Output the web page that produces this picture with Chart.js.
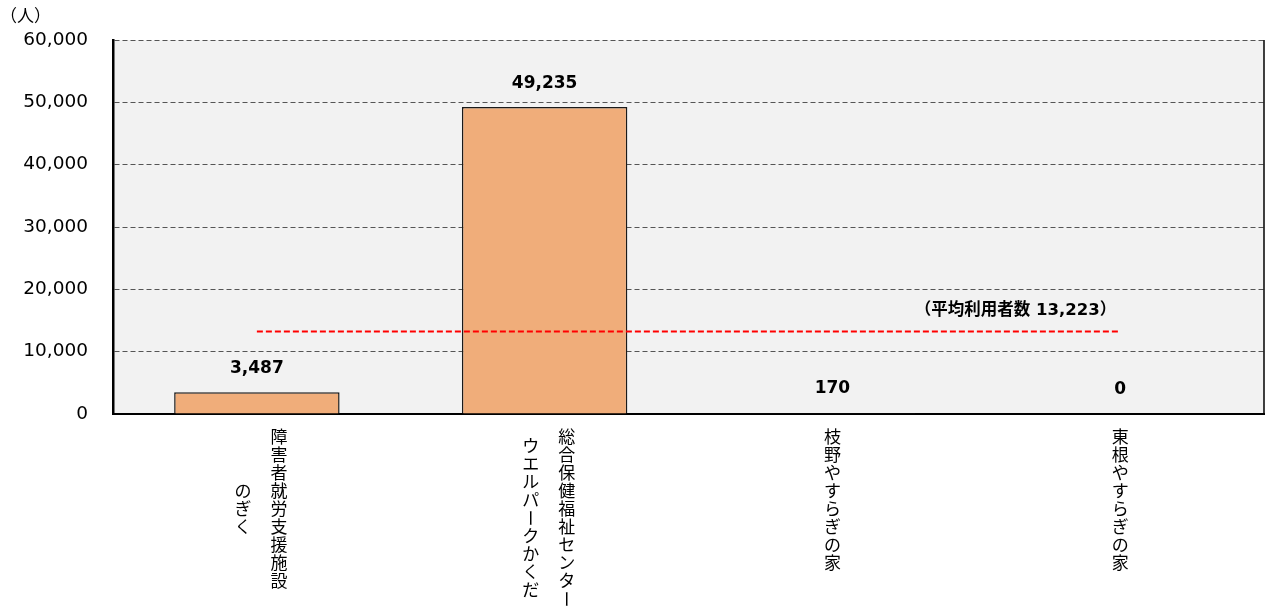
<!DOCTYPE html>
<html>
<head>
<meta charset="utf-8">
<script src="https://cdn.jsdelivr.net/npm/chart.js@4"></script>
<style>
  body { margin: 0; background: #fff; }
</style>
</head>
<body>
<canvas id="myBarChart" width="1269" height="610"></canvas>
<script>
// facility names, each line is one vertical column (first line on the right)
var facilities = [
  ["障害者就労支援施設", "のぎく"],
  ["総合保健福祉センター", "ウエルパークかくだ"],
  ["枝野やすらぎの家"],
  ["東根やすらぎの家"]
];
var users = [3487, 49235, 170, 0];
var average = 13223;
var avgLine = [average, average, average, average];
var yTicks = [0, 10000, 20000, 30000, 40000, 50000, 60000];
var unitLabel = "（人）";
var avgLabel = "（平均利用者数 13,223）";

var numFont = "'DejaVu Sans', Verdana, 'Noto Sans CJK JP', sans-serif";
var jpFont = "'Noto Sans CJK JP', sans-serif";

function fmt(v) {
  return v.toLocaleString('en-US');
}

var drawExtras = {
  id: 'drawExtras',
  beforeDraw: function(chart) {
    var a = chart.chartArea;
    var ctx = chart.ctx;
    ctx.save();
    ctx.fillStyle = '#f2f2f2';
    ctx.fillRect(a.left, a.top, a.right - a.left, a.bottom - a.top);
    ctx.restore();
  },
  afterDraw: function(chart) {
    var a = chart.chartArea;
    var ctx = chart.ctx;
    var x = chart.scales.x;
    var y = chart.scales.y;
    ctx.save();

    // right border of plot area
    ctx.strokeStyle = '#000';
    ctx.lineWidth = 1.5;
    ctx.beginPath();
    ctx.moveTo(a.right, a.top);
    ctx.lineTo(a.right, a.bottom);
    ctx.stroke();

    // unit
    ctx.fillStyle = '#000';
    ctx.font = '17px ' + jpFont;
    ctx.textAlign = 'left';
    ctx.textBaseline = 'middle';
    ctx.fillText(unitLabel, 0, 16);

    // value labels above bars
    var meta = chart.getDatasetMeta(1);
    ctx.font = 'bold 17px ' + numFont;
    ctx.textAlign = 'center';
    meta.data.forEach(function(bar, i) {
      ctx.fillText(fmt(users[i]), bar.x, bar.y - 24);
    });

    // average label
    ctx.textAlign = 'right';
    ctx.font = 'bold 16.5px ' + numFont;
    ctx.fillText(avgLabel, x.getPixelForValue(3) - 4, y.getPixelForValue(average) - 21);

    // vertical category labels
    ctx.font = '17px ' + jpFont;
    ctx.textAlign = 'center';
    facilities.forEach(function(lines, i) {
      var cx = x.getPixelForValue(i);
      var maxLen = Math.max.apply(null, lines.map(function(l) { return l.length; }));
      var pitch = Math.min(18, 180 / maxLen);
      var mid = a.bottom + 14 + (maxLen * pitch) / 2;
      lines.forEach(function(line, j) {
        var colX = cx + (lines.length - 1) * 22 - j * 36;
        var top = mid - (line.length * pitch) / 2;
        for (var k = 0; k < line.length; k++) {
          var cy = top + pitch * (k + 0.5);
          if (line[k] === 'ー') {
            ctx.save();
            ctx.translate(colX, cy);
            ctx.rotate(Math.PI / 2);
            ctx.fillText(line[k], 0, 0);
            ctx.restore();
          } else {
            ctx.fillText(line[k], colX, cy);
          }
        }
      });
    });
    ctx.restore();
  }
};

var ctx = document.getElementById('myBarChart');
var barGraph = new Chart(ctx, {
  type: 'bar',
  data: {
    labels: facilities.map(function(l) { return l.join(''); }),
    datasets: [
      {
        type: 'line',
        label: '平均利用者数',
        data: avgLine,
        borderColor: '#ff0000',
        borderWidth: 2,
        borderDash: [6, 3],
        pointRadius: 0,
        fill: false,
        order: 0
      },
      {
        label: '利用者数',
        data: users,
        backgroundColor: function(c) { return users[c.dataIndex] < 1000 ? '#1a1a1a' : '#f0ad7a'; },
        borderColor: '#1a1a1a',
        borderWidth: 1.5,
        barPercentage: 0.575,
        categoryPercentage: 1,
        order: 1
      }
    ]
  },
  options: {
    responsive: false,
    animation: false,
    devicePixelRatio: 1,
    layout: { padding: { top: 40, right: 5, left: 0, bottom: 0 } },
    plugins: {
      legend: { display: false },
      tooltip: { enabled: false }
    },
    scales: {
      x: {
        grid: { display: false },
        border: { display: true, color: '#000', width: 2 },
        ticks: { display: false },
        afterFit: function(scale) { scale.height = 196; }
      },
      y: {
        min: 0,
        max: 60000,
        afterBuildTicks: function(scale) {
          scale.ticks = yTicks.map(function(v) { return { value: v }; });
        },
        grid: { color: '#555', lineWidth: 1, drawTicks: false },
        border: { display: true, color: '#000', width: 2.5, dash: [5, 3] },
        ticks: {
          padding: 25,
          color: '#000',
          font: { family: numFont, size: 18.5 },
          callback: function(v) { return fmt(v); }
        },
        afterFit: function(scale) { scale.width = 113; }
      }
    }
  },
  plugins: [drawExtras]
});
</script>
</body>
</html>
